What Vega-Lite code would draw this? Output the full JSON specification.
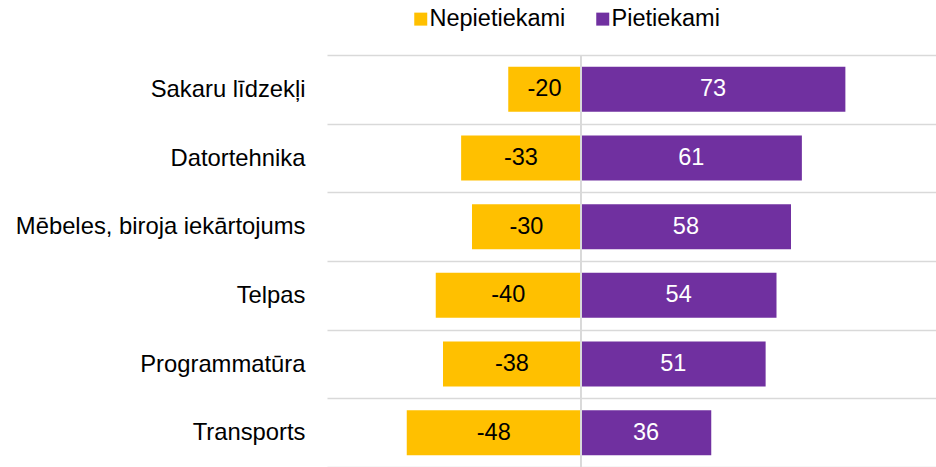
{
  "$schema": "https://vega.github.io/schema/vega-lite/v6.json",
  "width": 609,
  "height": 412,
  "autosize": {"type": "none"},
  "padding": {"left": 327, "top": 55, "right": 0, "bottom": 0},
  "config": {"font": "Liberation Sans", "view": {"stroke": null}},
  "data": {
    "values": [
      {"category": "Sakaru līdzekļi", "type": "Nepietiekami", "value": -20},
      {"category": "Sakaru līdzekļi", "type": "Pietiekami", "value": 73},
      {"category": "Datortehnika", "type": "Nepietiekami", "value": -33},
      {"category": "Datortehnika", "type": "Pietiekami", "value": 61},
      {"category": "Mēbeles, biroja iekārtojums", "type": "Nepietiekami", "value": -30},
      {"category": "Mēbeles, biroja iekārtojums", "type": "Pietiekami", "value": 58},
      {"category": "Telpas", "type": "Nepietiekami", "value": -40},
      {"category": "Telpas", "type": "Pietiekami", "value": 54},
      {"category": "Programmatūra", "type": "Nepietiekami", "value": -38},
      {"category": "Programmatūra", "type": "Pietiekami", "value": 51},
      {"category": "Transports", "type": "Nepietiekami", "value": -48},
      {"category": "Transports", "type": "Pietiekami", "value": 36}
    ]
  },
  "encoding": {
    "y": {
      "field": "category",
      "type": "nominal",
      "sort": ["Sakaru līdzekļi", "Datortehnika", "Mēbeles, biroja iekārtojums", "Telpas", "Programmatūra", "Transports"],
      "scale": {"paddingInner": 0, "paddingOuter": 0},
      "axis": {
        "title": null,
        "domain": false,
        "ticks": false,
        "tickBand": "extent",
        "grid": true,
        "gridColor": "#d9d9d9",
        "gridWidth": 1.5,
        "labelFontSize": 23.8,
        "labelColor": "#000000",
        "labelPadding": 22,
        "labelLimit": 0
      }
    }
  },
  "layer": [
    {
      "mark": {"type": "bar", "height": {"band": 0.655}},
      "encoding": {
        "x": {
          "field": "value",
          "type": "quantitative",
          "stack": "zero",
          "scale": {"domain": [-70, 98], "nice": false, "zero": false},
          "axis": null
        },
        "color": {
          "field": "type",
          "type": "nominal",
          "scale": {"domain": ["Nepietiekami", "Pietiekami"], "range": ["#FFC000", "#7030A0"]},
          "legend": {
            "title": null,
            "orient": "none",
            "direction": "horizontal",
            "legendX": 82,
            "legendY": -48,
            "symbolType": "square",
            "symbolSize": 169,
            "symbolStrokeWidth": 0,
            "labelFontSize": 23.5,
            "labelColor": "#000000",
            "labelOffset": -3,
            "columnPadding": 25,
            "padding": 0
          }
        }
      }
    },
    {
      "mark": {"type": "rule", "color": "#d9d9d9", "strokeWidth": 1.5},
      "encoding": {"x": {"datum": 0, "type": "quantitative"}, "y": {"value": 0}, "y2": {"value": 412}}
    },
    {
      "mark": {"type": "text", "fontSize": 23.5, "align": "center", "baseline": "middle"},
      "encoding": {
        "x": {"field": "value", "type": "quantitative", "stack": "zero", "bandPosition": 0.5},
        "detail": {"field": "type"},
        "text": {"field": "value", "type": "nominal"},
        "color": {"condition": {"test": "datum.type === 'Pietiekami'", "value": "#ffffff"}, "value": "#000000"}
      }
    }
  ]
}
